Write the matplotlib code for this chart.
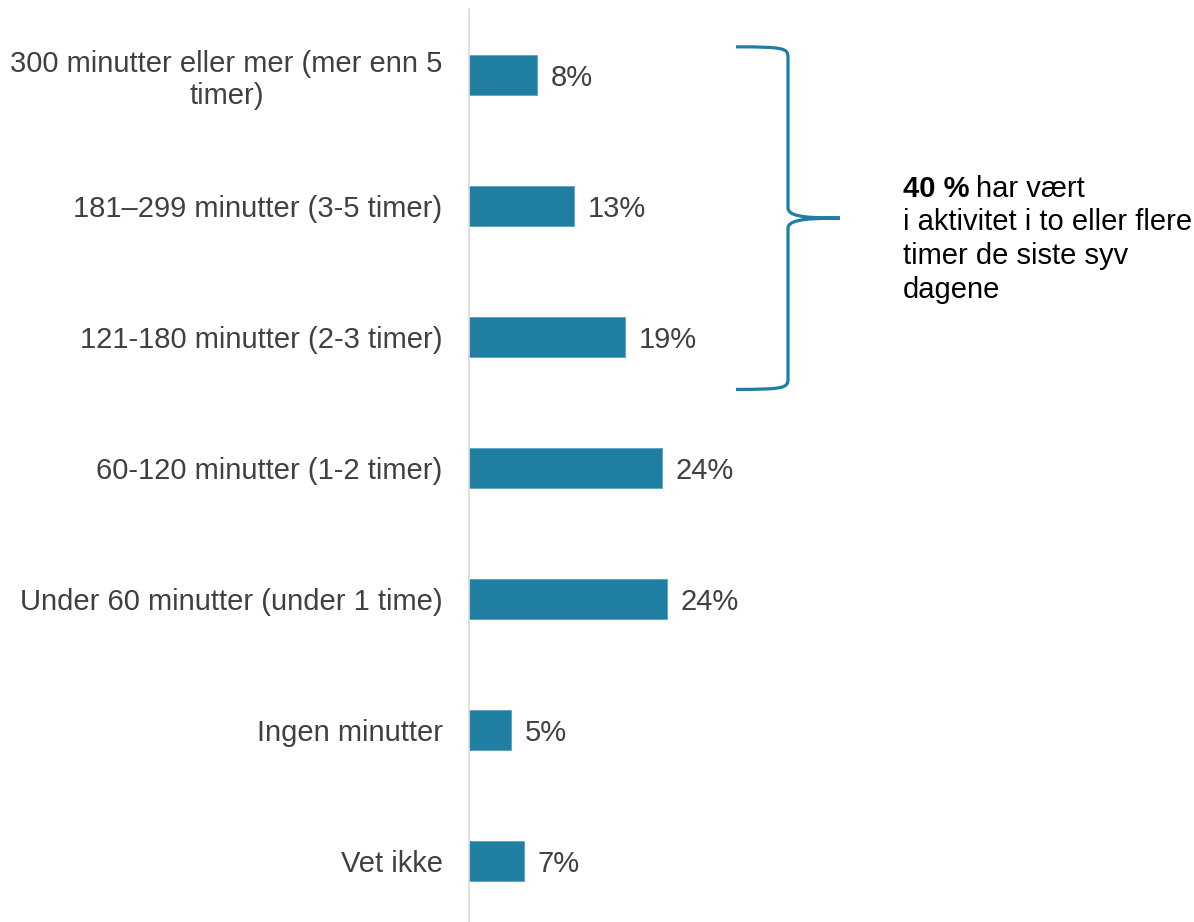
import matplotlib
matplotlib.use("Agg")
import matplotlib.pyplot as plt
from matplotlib.path import Path
from matplotlib.patches import PathPatch

plt.rcParams['font.family'] = ['Liberation Sans', 'DejaVu Sans']

categories = [
    "300 minutter eller mer (mer enn 5\ntimer)",
    "181–299 minutter (3-5 timer)",
    "121-180 minutter (2-3 timer)",
    "60-120 minutter (1-2 timer)",
    "Under 60 minutter (under 1 time)",
    "Ingen minutter",
    "Vet ikke",
]
values = [8.3, 12.8, 19.0, 23.5, 24.1, 5.1, 6.7]
value_labels = ["8%", "13%", "19%", "24%", "24%", "5%", "7%"]

bar_color = "#1F7EA1"
text_color = "#404040"
FS = 21

W, H = 1194, 922
fig = plt.figure(figsize=(W / 100, H / 100), dpi=100)
ax_left = 469 / W
ax = fig.add_axes([ax_left, 0, 1 - ax_left, 1])

px_per_unit_x = 8.2
px_per_cat = 131
first_center = 75
ax.set_xlim(0, (W - 469) / px_per_unit_x)
ax.set_ylim((H - first_center) / px_per_cat, -first_center / px_per_cat)

y = list(range(len(categories)))
ax.barh(y, values, height=0.31, color=bar_color, edgecolor="#5BA3C4", linewidth=0.6)

for yi, v, lab in zip(y, values, value_labels):
    ax.annotate(lab, (v, yi), xytext=(10, 0), textcoords="offset points",
                va="center_baseline", ha="left", fontsize=FS, color=text_color)

ax.set_yticks(y)
ax.set_yticklabels(categories, fontsize=FS, color=text_color)
for t in ax.get_yticklabels():
    t.set_multialignment("center")
    t.set_linespacing(1.2)
ax.tick_params(axis="y", length=0, pad=19)
ax.tick_params(axis="x", bottom=False, labelbottom=False)

for s in ["top", "right", "bottom"]:
    ax.spines[s].set_visible(False)
ax.spines["left"].set_color("#D9D9D9")
ax.spines["left"].set_linewidth(1.2)
ax.spines["left"].set_bounds(-0.5, 7)

# Brace (annotation) in data coordinates
x0 = (736 - 469) / px_per_unit_x
xv = (788 - 469) / px_per_unit_x
xt = (840 - 469) / px_per_unit_x
ytop = -0.215
ybot = 2.40
ymid = ytop + (ybot - ytop) * 0.5
r = 0.08
verts = [
    (x0, ytop),
    (xv - 0.5, ytop), (xv, ytop + 0.01), (xv, ytop + r),
    (xv, ymid - r),
    (xv, ymid - 0.02), (xv + 1.5, ymid), (xt, ymid),
    (xv + 1.5, ymid), (xv, ymid + 0.02), (xv, ymid + r),
    (xv, ybot - r),
    (xv, ybot - 0.01), (xv - 0.5, ybot), (x0, ybot),
]
codes = [Path.MOVETO,
         Path.CURVE4, Path.CURVE4, Path.CURVE4,
         Path.LINETO,
         Path.CURVE4, Path.CURVE4, Path.CURVE4,
         Path.CURVE4, Path.CURVE4, Path.CURVE4,
         Path.LINETO,
         Path.CURVE4, Path.CURVE4, Path.CURVE4]
brace = PathPatch(Path(verts, codes), facecolor="none", edgecolor=bar_color,
                  linewidth=2.3, clip_on=False, capstyle="butt")
ax.add_patch(brace)

tx = 903 / W
base0 = 197
lines = ["i aktivitet i to eller flere", "timer de siste syv", "dagene"]
t_bold = fig.text(tx, 1 - base0 / H, "40 %", fontsize=FS, color="black",
                  fontweight="bold", ha="left", va="baseline")
fig.canvas.draw()
bb = t_bold.get_window_extent()
fig.text((bb.x1 + 7) / W, 1 - base0 / H, "har vært", fontsize=FS, color="black",
         ha="left", va="baseline")
for i, ln in enumerate(lines):
    fig.text(tx, 1 - (base0 + 33.5 * (i + 1)) / H, ln, fontsize=FS, color="black",
             ha="left", va="baseline")

fig.savefig("out.png", dpi=100)
